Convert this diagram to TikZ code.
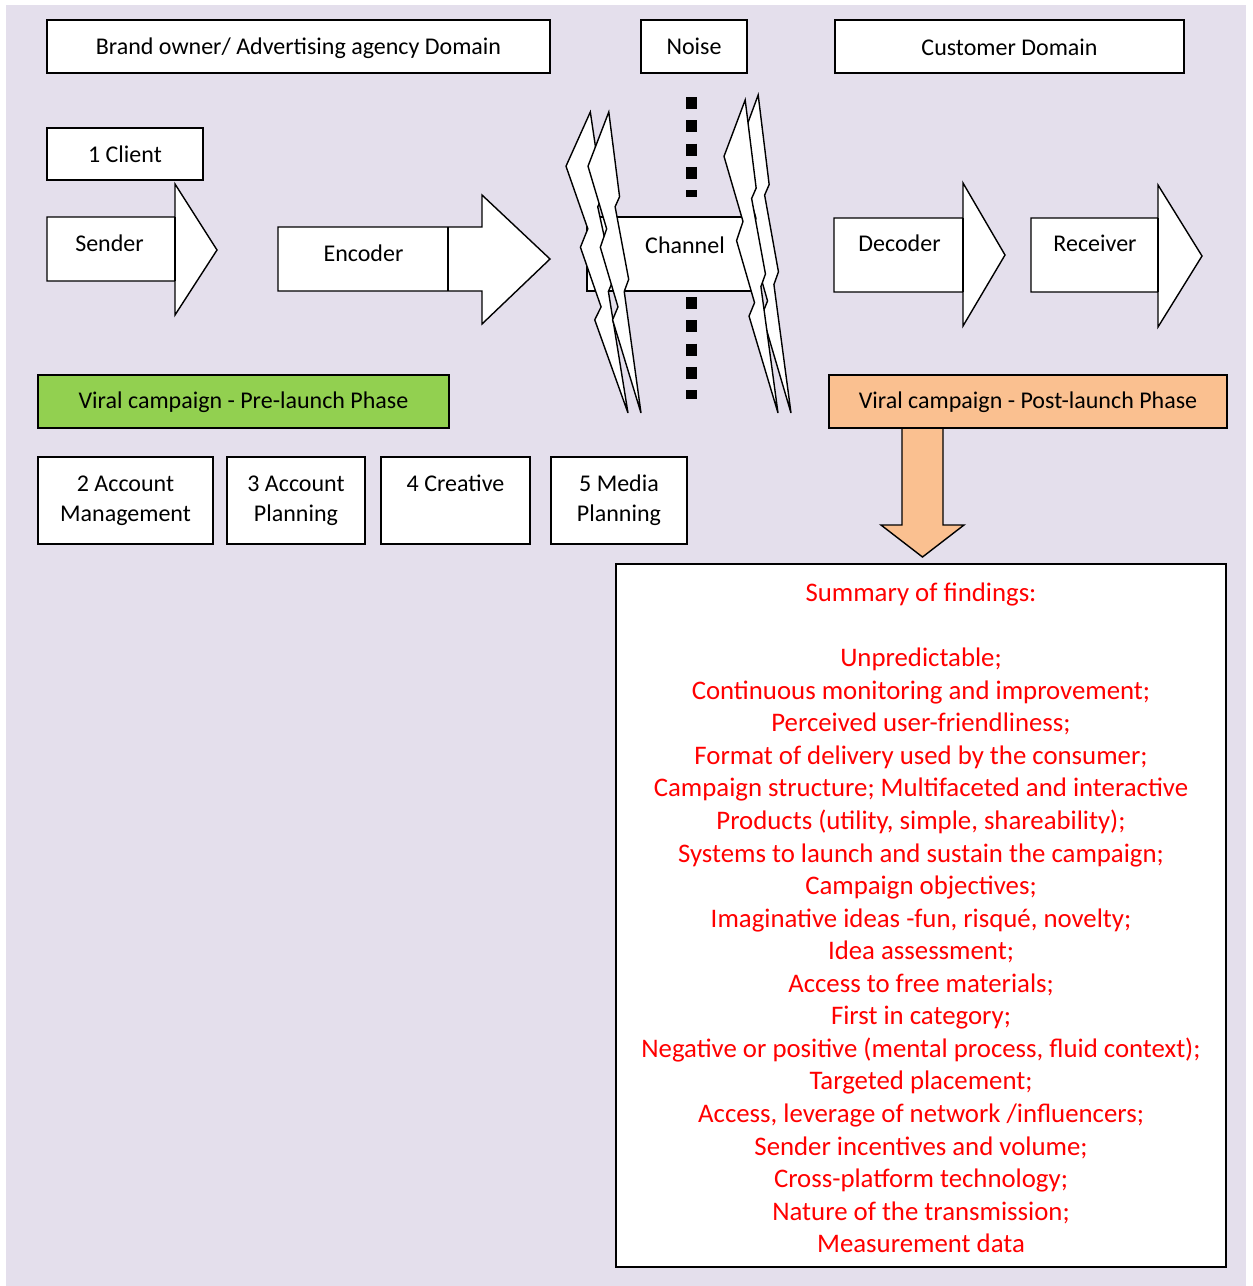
\documentclass[tikz,border=0pt]{standalone}
\usepackage{fontspec}
\setmainfont{Carlito}
\definecolor{lavbg}{HTML}{E4DFEC}
\definecolor{prelaunch}{HTML}{92D050}
\definecolor{postlaunch}{HTML}{FAC090}
\definecolor{findred}{HTML}{FF0000}
\tikzset{
  box/.style={draw=black, fill=white, line width=1.4pt, line join=miter},
  lbl/.style={inner sep=0pt, anchor=base, font=\fontsize{24}{29.2}\selectfont},
  findlbl/.style={inner sep=0pt, anchor=base, text=findred, font=\fontsize{26.8}{32}\selectfont},
  bolt/.style={draw=black, fill=white, line width=1.4pt, line join=miter},
  noise/.style={line width=11pt, dash pattern=on 12pt off 11.33pt}
}
% lightning bolt outline in a unit box (y pointing down)
\newcommand\boltoutline{(0.3922,0) -- (0.5954,0.2815) -- (0.5116,0.3147) -- (0.7675,0.5559) -- (0.6837,0.5962) -- (1,1) -- (0.4635,0.6905) -- (0.5658,0.6475) -- (0.2325,0.4493) -- (0.3519,0.3881) -- (0,0.1801) -- cycle}
\newcommand\drawbolt[4]{%
  \begin{scope}[shift={(#1,#2)}, x=#3pt, y=-#4pt]
    \draw[bolt] \boltoutline;
  \end{scope}}
\begin{document}
\begin{tikzpicture}[x=1pt, y=-1pt]
\useasboundingbox (0,0) rectangle (1253,1286);
\fill[lavbg] (6,5) rectangle (1246,1286);

% domain headings
\draw[box] (47,20) rectangle (550,73);
\node[lbl] (brand) at (298.5,54) {Brand owner/ Advertising agency Domain};
\draw[box] (641,20) rectangle (747,73);
\node[lbl] (noise) at (694,54) {Noise};
\draw[box] (835,20) rectangle (1184,73);
\node[lbl] (customer) at (1009.5,55) {Customer Domain};

\draw[box] (47,128) rectangle (203,180);
\node[lbl] (client) at (125,162) {1 Client};

% sender
\draw[box] (47,217) -- (175,217) -- (175,184) -- (217,250) -- (175,315) -- (175,281) -- (47,281) -- cycle;
\draw[line width=1.4pt] (175,217) -- (175,281);
\node[lbl] (sender) at (109.5,251) {Sender};

% encoder
\draw[box] (278,227) -- (482,227) -- (482,195) -- (550,259) -- (482,324) -- (482,291) -- (278,291) -- cycle;
\draw[line width=1.4pt] (448,227) -- (448,291);
\node[lbl] (encoder) at (363.5,261) {Encoder};

% noise line
\draw[noise] (691.5,97) -- (691.5,197);
\draw[noise] (691.5,297) -- (691.5,399);

% channel
\draw[box] (587,217) rectangle (752,291);
\node[lbl] (channel) at (685,253) {Channel};

% interference bolts
\drawbolt{566}{112}{62}{301}
\drawbolt{588}{112}{53}{301}
\drawbolt{737}{95}{54}{318}
\drawbolt{724}{100}{54}{313}

% decoder and receiver
\draw[box] (834,218) -- (963,218) -- (963,183) -- (1005,255) -- (963,326) -- (963,292) -- (834,292) -- cycle;
\draw[line width=1.4pt] (963,218) -- (963,292);
\node[lbl] (decoder) at (899.5,251) {Decoder};
\draw[box] (1031,218) -- (1158,218) -- (1158,185) -- (1202,256) -- (1158,327) -- (1158,292) -- (1031,292) -- cycle;
\draw[line width=1.4pt] (1158,218) -- (1158,292);
\node[lbl] (receiver) at (1095,251) {Receiver};

% phases
\draw[box, fill=prelaunch] (38,375) rectangle (449,428);
\node[lbl] (pre) at (243.5,408) {Viral campaign - Pre-launch Phase};
\draw[box, fill=postlaunch] (902,428) -- (943,428) -- (943,525) -- (964,525) -- (922.5,557) -- (881,525) -- (902,525) -- cycle;
\draw[box, fill=postlaunch] (829,375) rectangle (1227,428);
\node[lbl] (post) at (1028,408) {Viral campaign - Post-launch Phase};

% agency functions
\draw[box] (38,457) rectangle (213,544);
\node[lbl] (am1) at (125.5,491) {2 Account};
\node[lbl] (am2) at (125.5,521) {Management};
\draw[box] (227,457) rectangle (365,544);
\node[lbl] (ap1) at (296,491) {3 Account};
\node[lbl] (ap2) at (296,521) {Planning};
\draw[box] (381,457) rectangle (530,544);
\node[lbl] (cr) at (455.5,491) {4 Creative};
\draw[box] (551,457) rectangle (687,544);
\node[lbl] (mp1) at (619,491) {5 Media};
\node[lbl] (mp2) at (619,521) {Planning};

% findings
\draw[box] (616,564) rectangle (1226,1267);
\node[findlbl] (ftitle) at (921,601.6) {Summary of findings:};
\foreach \t [count=\i from 0] in {
  {Unpredictable;},
  {Continuous monitoring and improvement;},
  {Perceived user-friendliness;},
  {Format of delivery used by the consumer;},
  {Campaign structure; Multifaceted and interactive},
  {Products (utility, simple, shareability);},
  {Systems to launch and sustain the campaign;},
  {Campaign objectives;},
  {Imaginative ideas -fun, risqué, novelty;},
  {Idea assessment;},
  {Access to free materials;},
  {First in category;},
  {Negative or positive (mental process, fluid context);},
  {Targeted placement;},
  {Access, leverage of network /influencers;},
  {Sender incentives and volume;},
  {Cross-platform technology;},
  {Nature of the transmission;},
  {Measurement data}}
  \node[findlbl] (find\i) at (921,666.7+32.56*\i) {\t};
\end{tikzpicture}
\end{document}
